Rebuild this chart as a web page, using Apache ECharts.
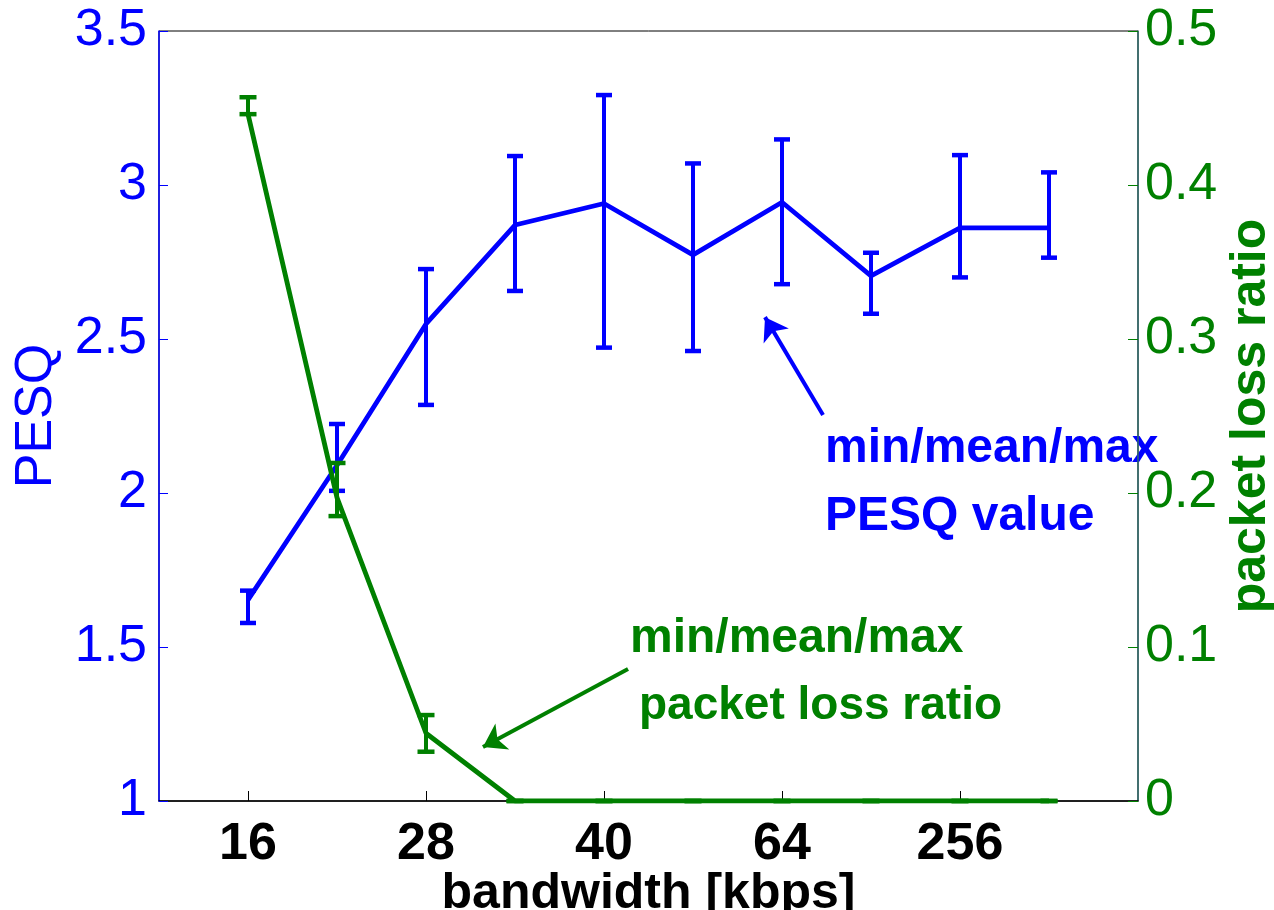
<!DOCTYPE html>
<html>
<head>
<meta charset="utf-8">
<script src="https://cdn.jsdelivr.net/npm/echarts@6/dist/echarts.min.js"></script>
<style>
html,body{margin:0;padding:0;background:#fff;}
#chart{width:1274px;height:910px;}
</style>
</head>
<body>
<div id="chart"></div>
<script>
// x positions are bandwidth steps; only some are labelled on the axis
const xLabels = ['16', '', '28', '', '40', '', '64', '', '256', ''];

// PESQ (left axis): mean, min, max
const pesqMean = [1.653, 2.09, 2.549, 2.870, 2.940, 2.773, 2.944, 2.705, 2.861, 2.861];
const pesqMin  = [1.578, 2.007, 2.286, 2.656, 2.472, 2.461, 2.678, 2.582, 2.700, 2.764];
const pesqMax  = [1.683, 2.224, 2.727, 3.094, 3.292, 3.070, 3.148, 2.780, 3.097, 3.041];

// packet loss ratio (right axis): mean, min, max
const lossMean = [0.446, 0.197, 0.044, 0, 0, 0, 0, 0, 0, 0];
const lossMin  = [0.446, 0.185, 0.032, 0, 0, 0, 0, 0, 0, 0];
const lossMax  = [0.457, 0.2195, 0.0558, 0, 0, 0, 0, 0, 0, 0];

// annotation arrows (tail -> head), in data units
const pesqArrow = [[6.461, 2.253], [5.809, 2.571]];
const lossArrow = [[4.270, 0.0857], [2.640, 0.0351]];

const BLUE = '#0000ff';
const GREEN = '#008000';
const FONT = 'Liberation Sans, Arial, sans-serif';

const idx = xLabels.map((_, i) => i);
const labelPositions = idx.filter(i => xLabels[i] !== '');

function pairs(vals) { return vals.map((v, i) => [i, v]); }
function errData(lo, hi) { return lo.map((v, i) => [i, v, hi[i]]); }

function errRender(color, capW) {
  return function (params, api) {
    const x = api.value(0);
    const pLo = api.coord([x, api.value(1)]);
    const pHi = api.coord([x, api.value(2)]);
    const h = capW / 2;
    return {
      type: 'group',
      children: [
        { type: 'line', shape: { x1: pLo[0], y1: pLo[1], x2: pHi[0], y2: pHi[1] },
          style: { stroke: color, lineWidth: 4 } },
        { type: 'line', shape: { x1: pHi[0] - h, y1: pHi[1], x2: pHi[0] + h, y2: pHi[1] },
          style: { stroke: color, lineWidth: 4.5 } },
        { type: 'line', shape: { x1: pLo[0] - h, y1: pLo[1], x2: pLo[0] + h, y2: pLo[1] },
          style: { stroke: color, lineWidth: 4.5 } }
      ]
    };
  };
}

const chart = echarts.init(document.getElementById('chart'), null, { renderer: 'canvas' });

const option = {
  animation: false,
  backgroundColor: '#fff',
  grid: {
    left: 159, right: 136, top: 31, bottom: 109,
    show: true, borderColor: '#000', borderWidth: 1,
    containLabel: false, outerBoundsMode: 'none'
  },
  xAxis: {
    type: 'value',
    min: -1, max: 10,
    splitLine: { show: false },
    axisLine: { show: true, onZero: false, lineStyle: { color: '#000', width: 1.5 } },
    axisTick: { show: true, inside: true, length: 10, customValues: labelPositions,
                lineStyle: { color: '#000', width: 1 } },
    axisLabel: {
      customValues: labelPositions,
      formatter: v => xLabels[Math.round(v)] || '',
      color: '#000', fontSize: 52, fontWeight: 'bold', fontFamily: FONT, margin: 18
    },
    name: 'bandwidth [kbps]',
    nameLocation: 'middle',
    nameGap: 68,
    nameMoveOverlap: false,
    nameTextStyle: { color: '#000', fontSize: 50, fontWeight: 'bold', fontFamily: FONT }
  },
  yAxis: [
    {
      type: 'value', min: 1, max: 3.5, interval: 0.5, position: 'left',
      splitLine: { show: false },
      axisLine: { show: true, onZero: false, lineStyle: { color: BLUE, width: 1.5 } },
      axisTick: { show: true, inside: true, length: 9, lineStyle: { color: BLUE } },
      axisLabel: { color: BLUE, fontSize: 52, fontFamily: FONT, margin: 12 },
      name: 'PESQ', nameLocation: 'middle', nameGap: 96, nameMoveOverlap: false,
      nameTextStyle: { color: BLUE, fontSize: 52, fontFamily: FONT }
    },
    {
      type: 'value', min: 0, max: 0.5, interval: 0.1, position: 'right',
      splitLine: { show: false },
      axisLine: { show: true, onZero: false, lineStyle: { color: '#2f6a6a', width: 1.5 } },
      axisTick: { show: true, inside: true, length: 10, lineStyle: { color: GREEN } },
      axisLabel: { color: GREEN, fontSize: 52, fontFamily: FONT, margin: 7 },
      name: 'packet loss ratio', nameLocation: 'middle', nameGap: 88, nameMoveOverlap: false,
      nameTextStyle: { color: GREEN, fontSize: 50, fontWeight: 'bold', fontFamily: FONT }
    }
  ],
  series: [
    {
      name: 'PESQ', type: 'line', yAxisIndex: 0, data: pairs(pesqMean),
      symbol: 'none', lineStyle: { color: BLUE, width: 4.8 }, z: 3,
      markLine: {
        silent: true, animation: false,
        symbol: ['none', 'arrow'], symbolSize: 22,
        label: { show: false },
        lineStyle: { color: BLUE, width: 4, type: 'solid' },
        data: [[{ coord: pesqArrow[0] }, { coord: pesqArrow[1] }]]
      }
    },
    {
      name: 'PESQ range', type: 'custom', yAxisIndex: 0,
      data: errData(pesqMin, pesqMax), encode: { x: 0, y: [1, 2] },
      renderItem: errRender(BLUE, 16), z: 3
    },
    {
      name: 'loss', type: 'line', yAxisIndex: 1, data: pairs(lossMean),
      symbol: 'none', lineStyle: { color: GREEN, width: 4.8 }, z: 5,
      markLine: {
        silent: true, animation: false,
        symbol: ['none', 'arrow'], symbolSize: 22,
        label: { show: false },
        lineStyle: { color: GREEN, width: 4, type: 'solid' },
        data: [[{ coord: lossArrow[0] }, { coord: lossArrow[1] }]]
      }
    },
    {
      name: 'loss range', type: 'custom', yAxisIndex: 1,
      data: errData(lossMin, lossMax), encode: { x: 0, y: [1, 2] },
      renderItem: errRender(GREEN, 17), z: 5
    }
  ],
  graphic: [
    { type: 'text', x: 825, y: 425, style: { text: 'min/mean/max', fill: BLUE, font: 'bold 48px ' + FONT, verticalAlign: 'top' } },
    { type: 'text', x: 825, y: 493, style: { text: 'PESQ value', fill: BLUE, font: 'bold 48px ' + FONT, verticalAlign: 'top' } },
    { type: 'text', x: 630, y: 615, style: { text: 'min/mean/max', fill: GREEN, font: 'bold 48px ' + FONT, verticalAlign: 'top' } },
    { type: 'text', x: 639, y: 683, style: { text: 'packet loss ratio', fill: GREEN, font: 'bold 46px ' + FONT, verticalAlign: 'top' } }
  ]
};

chart.setOption(option);
</script>
</body>
</html>
